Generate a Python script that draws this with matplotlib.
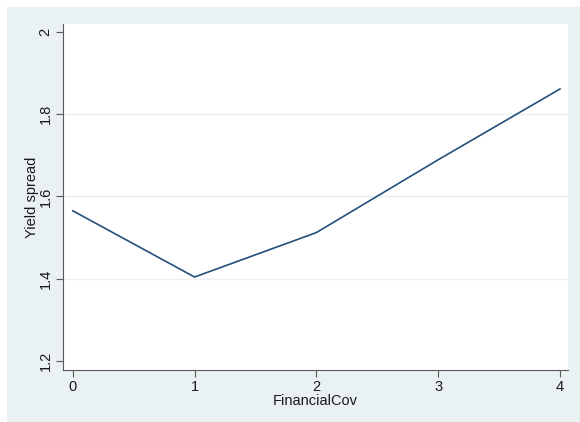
import matplotlib
matplotlib.use("Agg")
import matplotlib.pyplot as plt
from matplotlib.patches import Rectangle

# predicted yield spread at each level of financial covenants
financial_cov = [0, 1, 2, 3, 4]
yield_spread = [1.565, 1.404, 1.512, 1.689, 1.861]

x_ticks = [0, 1, 2, 3, 4]
y_ticks = [1.2, 1.4, 1.6, 1.8, 2.0]
y_tick_labels = ["1.2", "1.4", "1.6", "1.8", "2"]

plt.rcParams["font.family"] = ["Liberation Sans", "DejaVu Sans"]

BG = "#e9f1f3"
LINE = "#24507c"
AXIS = "#5a5a5a"
TEXT = "#1a1a1a"

fig = plt.figure(figsize=(5.80, 4.22), dpi=100, facecolor="white")
# graph region shading (stata-style s2color scheme)
fig.patches.append(Rectangle((7 / 580, 0), 1 - 7 / 580, 1 - 7 / 422,
                             transform=fig.transFigure, facecolor=BG,
                             edgecolor="none", zorder=-10))

ax = fig.add_axes([63 / 580, 1 - 370 / 422, 505 / 580, 346 / 422])
ax.set_zorder(1)
ax.set_facecolor("white")

ax.plot(financial_cov, yield_spread, color=LINE, linewidth=1.2, zorder=3)

ax.set_xlim(-0.08, 4.066)
ax.set_ylim(1.178, 2.019)
ax.set_xticks(x_ticks)
ax.set_xticklabels([str(v) for v in x_ticks])
ax.set_yticks(y_ticks)
ax.set_yticklabels(y_tick_labels, rotation=90, va="center")

# light horizontal grid on interior ticks only
for g in y_ticks[1:-1]:
    ax.axhline(g, color=BG, linewidth=1.0, zorder=1)

for side in ["top", "right"]:
    ax.spines[side].set_visible(False)
for side in ["left", "bottom"]:
    ax.spines[side].set_color(AXIS)
    ax.spines[side].set_linewidth(0.8)

ax.tick_params(axis="both", direction="out", length=5, width=0.8,
               color=AXIS, labelsize=10.5, labelcolor=TEXT, pad=2.5)

ax.set_xlabel("FinancialCov", fontsize=10.5, color=TEXT, labelpad=0)
ax.set_ylabel("Yield spread", fontsize=10.5, color=TEXT, labelpad=0)

fig.savefig("out.png", dpi=100, facecolor=fig.get_facecolor())
